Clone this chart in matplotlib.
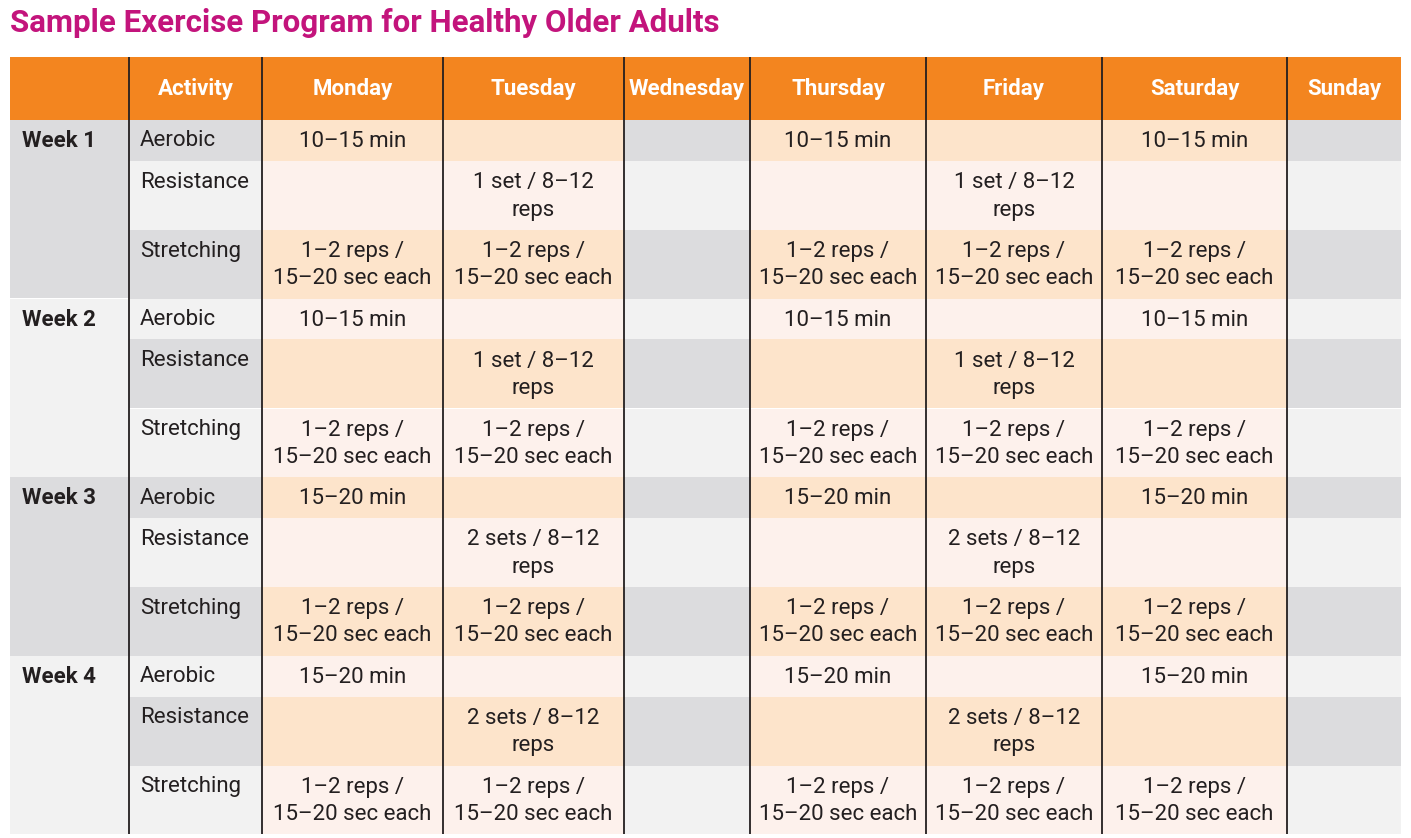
import matplotlib
matplotlib.use("Agg")
import matplotlib.pyplot as plt
from matplotlib.patches import Rectangle

plt.rcParams['font.family'] = ['Roboto', 'DejaVu Sans']

title = "Sample Exercise Program for Healthy Older Adults"
headers = ["", "Activity", "Monday", "Tuesday", "Wednesday", "Thursday", "Friday", "Saturday", "Sunday"]
days = headers[2:]
rest_days = ["Wednesday", "Sunday"]
weeks = ["Week 1", "Week 2", "Week 3", "Week 4"]
activities = ["Aerobic", "Resistance", "Stretching"]

aerobic = ["10–15 min", "10–15 min", "15–20 min", "15–20 min"]
resistance = ["1 set / 8–12\nreps", "1 set / 8–12\nreps", "2 sets / 8–12\nreps", "2 sets / 8–12\nreps"]
stretching = ["1–2 reps /\n15–20 sec each"] * 4

aerobic_days = ["Monday", "Thursday", "Saturday"]
resistance_days = ["Tuesday", "Friday"]
stretching_days = ["Monday", "Tuesday", "Thursday", "Friday", "Saturday"]

# layout (pixels)
col_edges = [10, 129, 262, 443, 624, 750, 926, 1102, 1287, 1401]
head_top, head_bot = 57, 120
row_h = {"Aerobic": 41, "Resistance": 69, "Stretching": 68.5}

ORANGE = "#f3851f"
MAGENTA = "#c3147c"
GRAY_D, GRAY_L = "#dcdcde", "#f2f2f2"
PEACH_D, PEACH_L = "#fde4cb", "#fdf1ec"
INK = "#231f20"
FS = 16

fig = plt.figure(figsize=(14.11, 8.38), dpi=100)
ax = fig.add_axes([0, 0, 1, 1])
ax.set_xlim(0, 1411)
ax.set_ylim(838, 0)
ax.axis("off")

ax.text(10, 23, title, color=MAGENTA, fontsize=22.5, fontweight="bold", va="center", ha="left")

# header
ax.add_patch(Rectangle((col_edges[0], head_top), col_edges[-1] - col_edges[0], head_bot - head_top, color=ORANGE, lw=0))
for j, h in enumerate(headers):
    cx = (col_edges[j] + col_edges[j + 1]) / 2
    ax.text(cx, (head_top + head_bot) / 2 + 1, h, color="white", fontsize=FS, fontweight="bold", ha="center", va="center")

schedule = {"Aerobic": (aerobic, aerobic_days),
            "Resistance": (resistance, resistance_days),
            "Stretching": (stretching, stretching_days)}

y = head_bot
k = 0
for w, week in enumerate(weeks):
    wk_top = y
    for act in activities:
        h = row_h[act]
        dark = (k % 2 == 0)
        texts, on_days = schedule[act]
        # activity col
        ax.add_patch(Rectangle((col_edges[1], y), col_edges[2] - col_edges[1], h, color=GRAY_D if dark else GRAY_L, lw=0))
        ax.text(col_edges[1] + 11, y + 21, act, color=INK, fontsize=FS, ha="left", va="center")
        for j, d in enumerate(days):
            x0, x1 = col_edges[j + 2], col_edges[j + 3]
            if d in rest_days:
                c = GRAY_D if dark else GRAY_L
            else:
                c = PEACH_D if dark else PEACH_L
            ax.add_patch(Rectangle((x0, y), x1 - x0, h, color=c, lw=0))
            if d in on_days:
                ax.text((x0 + x1) / 2, y + h / 2 + 1, texts[w], color=INK, fontsize=FS,
                        ha="center", va="center", linespacing=1.4)
        y += h
        k += 1
    # week col block
    ax.add_patch(Rectangle((col_edges[0], wk_top), col_edges[1] - col_edges[0], y - wk_top,
                           color=GRAY_D if w % 2 == 0 else GRAY_L, lw=0))
    ax.text(col_edges[0] + 12, wk_top + 21, week, color=INK, fontsize=FS, fontweight="bold", ha="left", va="center")

# column rules
for x in col_edges[1:-1]:
    ax.plot([x, x], [head_top, y], color=INK, lw=1.3, solid_capstyle="butt")

fig.savefig("out.png", dpi=100)
